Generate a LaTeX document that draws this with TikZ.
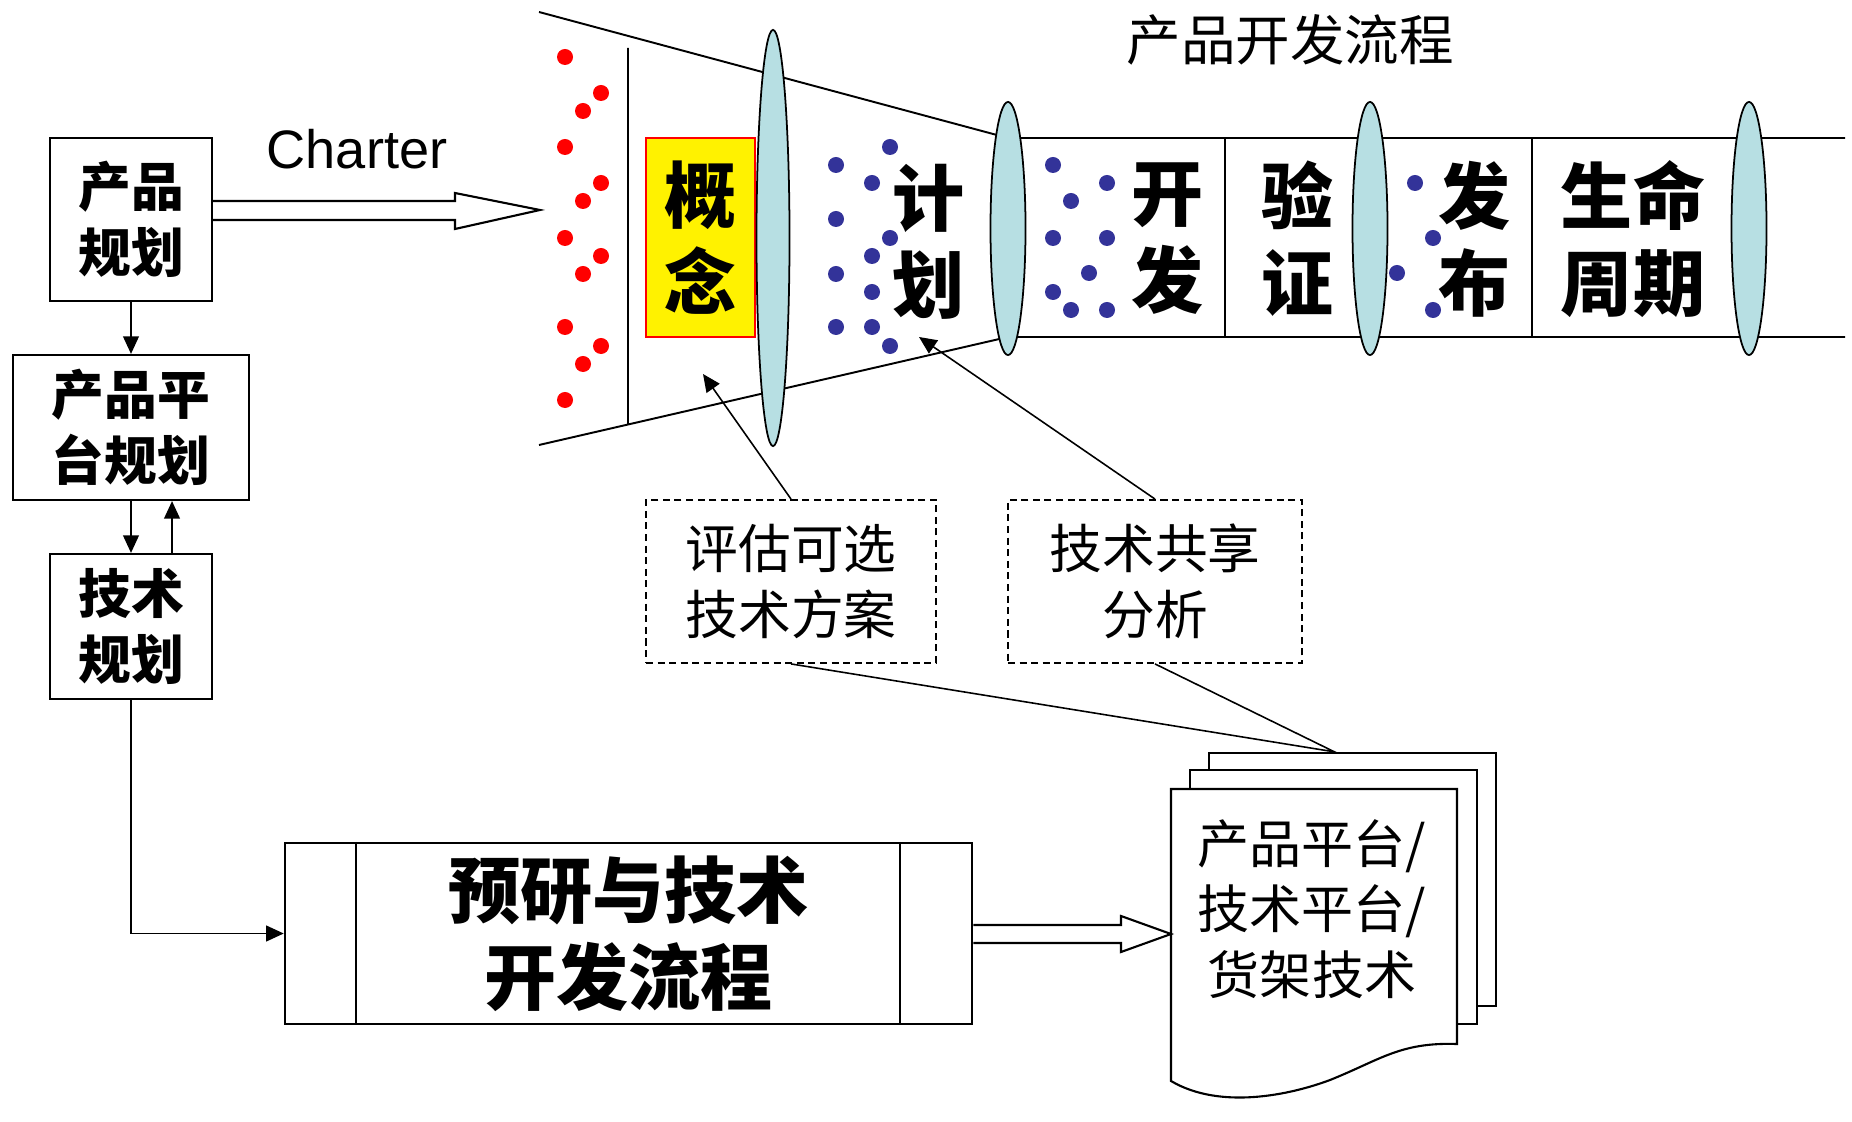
\documentclass[tikz,border=0pt]{standalone}
\usepackage{fontspec}
\setmainfont{Noto Sans CJK SC}
\newfontfamily\arial{Liberation Sans}
\usetikzlibrary{shapes.geometric,arrows.meta,positioning}
\definecolor{lensblue}{RGB}{183,223,227}
\definecolor{dotblue}{RGB}{51,51,153}

\begin{document}
\begin{tikzpicture}[x=0.01cm,y=-0.01cm,
        box/.style={draw, line width=0.6pt, align=center, inner sep=0pt, font=\bfseries\fontsize{15}{18.6}\selectfont},
        stage/.style={align=center, inner sep=0pt, font=\bfseries\fontsize{20.5}{24.7}\selectfont},
        lens/.style={ellipse, draw, fill=lensblue, line width=0.5pt, minimum width=0.35cm, inner sep=0pt},
        note/.style={draw, dash pattern=on 2pt off 1.3pt, line width=0.5pt, align=center, inner sep=0pt, minimum height=1.63cm, font=\fontsize{15}{18.8}\selectfont},
        sheet/.style={draw, fill=white, line width=0.6pt, minimum width=2.87cm, minimum height=2.53cm},
        link/.style={line width=0.45pt, -{Triangle[length=5pt,width=4.5pt]}},
        hollow/.style={draw, fill=white, line width=0.6pt}]
    \useasboundingbox (0,0) rectangle (1852,1122);

    \node [box, minimum width=1.62cm, minimum height=1.63cm] (b1) at (131,219.5) {产品\\规划};
    \node [box, minimum width=2.35cm, minimum height=1.45cm] (b2) at (131,427.5) {产品平\\台规划};
    \node [box, minimum width=1.62cm, minimum height=1.45cm] (b3) at (131,626.5) {技术\\规划};
    \node [box, minimum width=6.87cm, minimum height=1.81cm, font=\bfseries\fontsize{20.5}{24.7}\selectfont] (b4) at (628.5,933.5) {预研与技术\\开发流程};
    \draw [link] (b1) -- (b2);
    \draw [link] (b2) -- (b3);
    \draw [link] ([xshift=0.41cm]b3.north) -- ([xshift=0.41cm]b3.north |- b2.south);
    \draw [link] (b3.south) |- (b4.west);
    \draw [line width=0.6pt]
        ([xshift=0.72cm]b4.north west) -- ([xshift=0.72cm]b4.south west)
        ([xshift=-0.73cm]b4.north east) -- ([xshift=-0.73cm]b4.south east);

    % funnel and pipe
    \draw [line width=0.55pt]
        (539,12) -- (1008,138) -- (1845,138)
        (539,445) -- (1008,337) -- (1845,337)
        (628,48) -- (628,424.5)
        (1225,138) -- (1225,337)
        (1532,138) -- (1532,337);
    \fill [red] (565,57) circle (0.08cm) (601,93) circle (0.08cm) (583,111) circle (0.08cm)
        (565,147) circle (0.08cm) (601,183) circle (0.08cm) (583,201) circle (0.08cm)
        (565,238) circle (0.08cm) (601,256) circle (0.08cm) (583,274) circle (0.08cm)
        (565,327) circle (0.08cm) (601,346) circle (0.08cm) (583,364) circle (0.08cm)
        (565,400) circle (0.08cm);
    \fill [dotblue] (890,147) circle (0.08cm) (836,165) circle (0.08cm) (872,183) circle (0.08cm)
        (836,219) circle (0.08cm) (890,238) circle (0.08cm) (872,256) circle (0.08cm)
        (836,274) circle (0.08cm) (872,292) circle (0.08cm) (836,327) circle (0.08cm)
        (872,327) circle (0.08cm) (890,346) circle (0.08cm)
        (1053,165) circle (0.08cm) (1107,183) circle (0.08cm) (1071,201) circle (0.08cm)
        (1053,238) circle (0.08cm) (1107,238) circle (0.08cm) (1089,273) circle (0.08cm)
        (1053,292) circle (0.08cm) (1071,310) circle (0.08cm) (1107,310) circle (0.08cm)
        (1415,183) circle (0.08cm) (1433,238) circle (0.08cm) (1397,273) circle (0.08cm)
        (1433,310) circle (0.08cm);

    \node [stage, draw=red, fill=yellow, line width=0.7pt, minimum width=1.09cm, minimum height=1.99cm] (c0) at (700.5,237.5) {概\\念};
    \node [stage] (c1) at (929,242) {计\\划};
    \node [stage] (c2) at (1168,239) {开\\发};
    \node [stage] (c3) at (1298,239) {验\\证};
    \node [stage] (c4) at (1475,239) {发\\布};
    \node [stage] (c5) at (1633,239) {生命\\周期};
    \node [lens, minimum width=0.33cm, minimum height=4.16cm] (l1) at (773,238) {};
    \node [lens, minimum height=2.53cm] (l2) at (1008,228.5) {};
    \node [lens, minimum height=2.53cm] (l3) at (1370,228.5) {};
    \node [lens, minimum height=2.53cm] (l4) at (1749,228.5) {};
    \node [font=\fontsize{15.5}{18}\selectfont] (t0) at (1290,40) {产品开发流程};

    \node [font=\arial\fontsize{15.4}{18}\selectfont, inner sep=0pt] (ch) at (357,149) {Charter};
    \coordinate (mouth) at (540,210);
    \draw [hollow] (b1.east |- 0,201) -- (455,201) -- (455,193) -- (mouth) -- (455,229) -- (455,220) -- (b1.east |- 0,220);

    \node [note, minimum width=2.90cm] (n1) at (791,581.5) {评估可选\\技术方案};
    \node [note, minimum width=2.94cm] (n2) at (1155,581.5) {技术共享\\分析};
    \coordinate (a1) at (703,374);
    \coordinate (a2) at (919,337);
    \draw [link] (n1.north) -- (a1);
    \draw [link] (n2.north) -- (a2);

    % document stack
    \node [sheet] (s2) at (1352.5,879.5) {};
    \node [sheet] (s1) at (1333.5,897) {};
    \draw [line width=0.45pt] (n1.south) -- ([xshift=-0.18cm]s2.north) -- (n2.south);
    \filldraw [fill=white, line width=0.6pt] (1171,1081) -- (1171,789) -- (1457,789) -- (1457,1044)
        .. controls (1400,1042) and (1380,1060) .. (1330,1080)
        .. controls (1290,1095) and (1220,1110) .. (1171,1081) -- cycle;
    \node [align=center, inner sep=0pt, font=\fontsize{14.8}{18.6}\selectfont] (s0) at (1312,909) {产品平台/\\技术平台/\\货架技术};
    \coordinate (s0w) at (1171,934);
    \draw [hollow] (b4.east |- 0,925) -- (1121,925) -- (1121,916) -- (s0w) -- (1121,952) -- (1121,943) -- (b4.east |- 0,943);
\end{tikzpicture}
\end{document}
